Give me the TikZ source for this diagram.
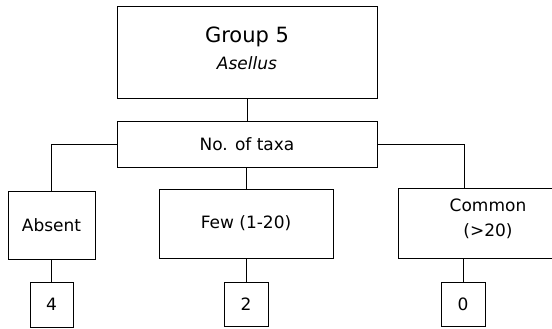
\documentclass[tikz,border=0pt]{standalone}
\usepackage{fontspec}
\setmainfont{DejaVu Sans}
\begin{document}
\begin{tikzpicture}[x=1pt,y=-1pt,
  box/.style={draw=black, line width=0.9pt, inner sep=0pt, align=center,
    font=\fontsize{17}{25}\selectfont},
  wire/.style={draw=black, line width=0.9pt}]
\useasboundingbox (0,0) rectangle (552,329);
\clip (0,0) rectangle (552,329);
\node[box, minimum width=260pt, minimum height=92pt] (group) at (247,52)
  {{\fontsize{21}{25}\selectfont Group 5}\\[2pt]{\itshape Asellus}\\[-17pt]};
\node[box, minimum width=260pt, minimum height=46pt] (taxa) at (247,144) {No. of taxa};
\node[box, minimum width=87pt, minimum height=68pt] (absent) at (51.5,225) {Absent};
\node[box, minimum width=174pt, minimum height=69pt] (few) at (246,223.5) {Few (1-20)};
\node[box, minimum width=180pt, minimum height=70pt] (common) at (488,223) {Common\\(>20)\\[-15pt]};
\node[box, minimum width=43pt, minimum height=45pt] (four) at (51.5,304.5) {4};
\node[box, minimum width=44pt, minimum height=44pt] (two) at (246,304) {2};
\node[box, minimum width=44pt, minimum height=44pt] (zero) at (463,304) {0};
\draw[wire] (group.south) -- (taxa.north);
\draw[wire] (taxa.west) -| (absent.north);
\draw[wire] (few.north |- taxa.south) -- (few.north);
\draw[wire] (taxa.east) -| ([xshift=-24pt]common.north);
\draw[wire] (absent.south) -- (four.north);
\draw[wire] (few.south) -- (two.north);
\draw[wire] (zero.north |- common.south) -- (zero.north);
\end{tikzpicture}
\end{document}
